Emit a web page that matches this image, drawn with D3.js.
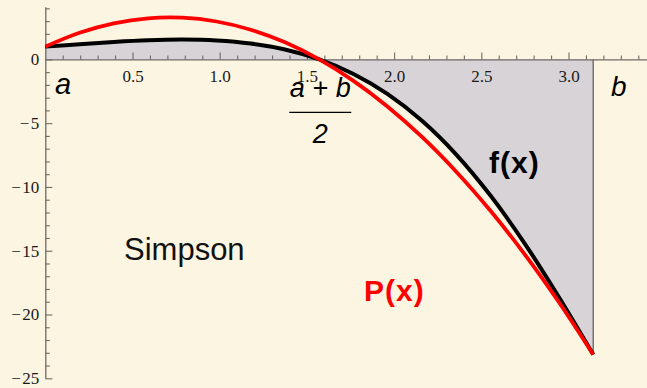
<!DOCTYPE html>
<html>
<head>
<meta charset="utf-8">
<script src="https://cdn.jsdelivr.net/npm/d3@7"></script>
<style>
  html, body { margin: 0; padding: 0; background: #fcf5e1; }
  svg { display: block; }
</style>
</head>
<body>
<svg id="chart" width="647" height="388"></svg>
<script>
// Sample abscissae on [a, b] = [0, π], step π/16
const sampleX = [0, 0.19635, 0.39270, 0.58905, 0.78540, 0.98175, 1.17810, 1.37445,
  1.57080, 1.76715, 1.96350, 2.15984, 2.35619, 2.55254, 2.74889, 2.94524, 3.14159];

// f(x) sampled at sampleX
const fValues = [1.0000, 1.1936, 1.3683, 1.4986, 1.5509, 1.4829, 1.2430, 0.7712,
  0.0000, -1.1421, -2.7263, -4.8167, -7.4605, -10.6758, -14.4359, -18.6499, -23.1407];

// Simpson interpolating parabola P(x) through a, (a+b)/2, b
const pValues = [1.0000, 2.0858, 2.8257, 3.2196, 3.2676, 2.9696, 2.3257, 1.3358,
  0.0000, -1.6818, -3.7095, -6.0831, -8.8028, -11.8683, -15.2798, -19.0373, -23.1407];

const xMajorTicks = [0.5, 1.0, 1.5, 2.0, 2.5, 3.0];
const xTickLabels = ["0.5", "1.0", "1.5", "2.0", "2.5", "3.0"];
const yMajorTicks = [0, -5, -10, -15, -20, -25];
const yTickLabels = ["0", "\u2212\u200a5", "\u2212\u200a10", "\u2212\u200a15", "\u2212\u200a20", "\u2212\u200a25"];

const svg = d3.select("#chart");
const W = 647, H = 388;

const x = d3.scaleLinear().domain([0, 3.45]).range([45.3, W]);
const y = d3.scaleLinear().domain([-25, 4.13]).range([378.3, 6.7]);

const fPts = sampleX.map((v, i) => ({ x: v, y: fValues[i] }));
const pPts = sampleX.map((v, i) => ({ x: v, y: pValues[i] }));

// Shaded region between f and the x axis
const area = d3.area()
  .x(d => x(d.x)).y0(y(0)).y1(d => y(d.y))
  .curve(d3.curveCatmullRom);
svg.append("path").datum(fPts)
  .attr("d", area)
  .attr("fill", "#d8d3d6");

// Right edge of the shaded region at x = b
const last = fPts[fPts.length - 1];
svg.append("line")
  .attr("x1", x(last.x)).attr("x2", x(last.x))
  .attr("y1", y(0)).attr("y2", y(last.y))
  .attr("stroke", "#5a5a5a").attr("stroke-width", 1.2);

const axisColor = "#6e6a66";
const tickFont = "'Liberation Serif', 'Times New Roman', serif";

// x axis: minor ticks
const xMinor = d3.range(1, 35).map(i => i / 10).filter(v => Math.abs(v * 2 - Math.round(v * 2)) > 1e-6);
const gxMinor = svg.append("g").attr("transform", `translate(0,${y(0)})`)
  .call(d3.axisBottom(x).tickValues(xMinor).tickSizeInner(-4).tickSizeOuter(0).tickFormat(""));
gxMinor.select(".domain").remove();

// x axis: major ticks and labels
const gx = svg.append("g").attr("transform", `translate(0,${y(0)})`)
  .call(d3.axisBottom(x).tickValues(xMajorTicks).tickSizeInner(-7).tickSizeOuter(0)
    .tickPadding(11).tickFormat((d, i) => xTickLabels[i]));

// y axis: minor ticks
const yMinor = d3.range(-24, 5).filter(v => v % 5 !== 0);
const gyMinor = svg.append("g").attr("transform", `translate(${x(0)},0)`)
  .call(d3.axisLeft(y).tickValues(yMinor).tickSizeInner(-4.5).tickSizeOuter(0).tickFormat(""));
gyMinor.select(".domain").remove();

// y axis: major ticks and labels
const gy = svg.append("g").attr("transform", `translate(${x(0)},0)`)
  .call(d3.axisLeft(y).tickValues(yMajorTicks).tickSizeInner(-7).tickSizeOuter(0)
    .tickPadding(6).tickFormat((d, i) => yTickLabels[i]));

svg.selectAll(".domain").attr("stroke", axisColor).attr("stroke-width", 1.3);
svg.selectAll(".tick line").attr("stroke", axisColor).attr("stroke-width", 1.1);
svg.selectAll(".tick text")
  .attr("fill", "#1a1a1a")
  .style("font-family", tickFont)
  .style("font-size", "17px");

// Curves
const line = d3.line().x(d => x(d.x)).y(d => y(d.y)).curve(d3.curveCatmullRom);
svg.append("path").datum(fPts)
  .attr("d", line).attr("fill", "none")
  .attr("stroke", "#000").attr("stroke-width", 4);
svg.append("path").datum(pPts)
  .attr("d", line).attr("fill", "none")
  .attr("stroke", "#ff0000").attr("stroke-width", 3.8);

// Annotations
const sans = "'Liberation Sans', Arial, Helvetica, sans-serif";
function label(txt, px, py, opts = {}) {
  return svg.append("text")
    .attr("x", px).attr("y", py)
    .attr("text-anchor", opts.anchor || "start")
    .attr("fill", opts.fill || "#000")
    .style("font-family", sans)
    .style("font-size", (opts.size || 28) + "px")
    .style("font-style", opts.italic ? "italic" : "normal")
    .style("font-weight", opts.bold ? "bold" : "normal")
    .text(txt);
}

label("a", 55, 93.5, { italic: true, size: 29 });
label("b", 611, 95.5, { italic: true, size: 28 });

const mid = x(sampleX[8]);
label("a + b", mid + 1, 96.5, { italic: true, size: 27, anchor: "middle" });
svg.append("line")
  .attr("x1", mid - 30).attr("x2", mid + 32)
  .attr("y1", 112.3).attr("y2", 112.3)
  .attr("stroke", "#000").attr("stroke-width", 1.3);
label("2", mid + 1, 143.3, { italic: true, size: 27, anchor: "middle" });

label("Simpson", 124, 260, { size: 31, fill: "#111" });
label("f(x)", 489, 173, { bold: true, size: 30 }).style("letter-spacing", "1px");
label("P(x)", 364, 300.5, { bold: true, size: 30, fill: "#ff0000" }).style("letter-spacing", "1px");
</script>
</body>
</html>
